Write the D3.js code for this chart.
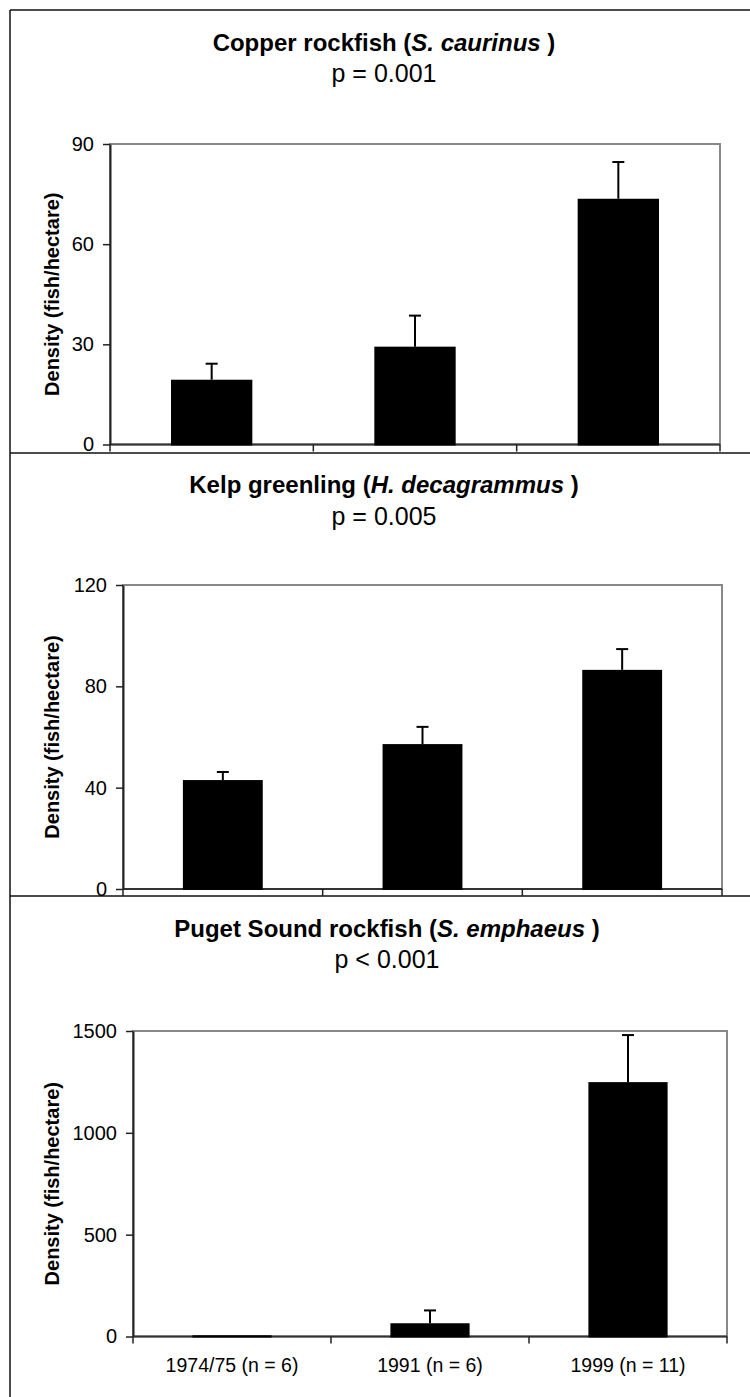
<!DOCTYPE html>
<html>
<head>
<meta charset="utf-8">
<script src="https://cdn.jsdelivr.net/npm/d3@7"></script>
<style>
  html, body { margin: 0; padding: 0; background: #fff; }
  svg { display: block; font-family: "Liberation Sans", Arial, Helvetica, sans-serif; }
</style>
</head>
<body>
<svg id="chart" width="750" height="1397"></svg>
<script>
// Survey periods shared by all three species panels
const categories = ["1974/75 (n = 6)", "1991 (n = 6)", "1999 (n = 11)"];

// Copper rockfish (S. caurinus): mean density and standard error
const copperMean = [19.4, 29.3, 73.6];
const copperSE = [4.8, 9.3, 11.0];
const copperTicks = [0, 30, 60, 90];

// Kelp greenling (H. decagrammus)
const greenlingMean = [43.0, 57.2, 86.5];
const greenlingSE = [3.2, 6.8, 8.2];
const greenlingTicks = [0, 40, 80, 120];

// Puget Sound rockfish (S. emphaeus)
const pugetMean = [6, 65, 1249];
const pugetSE = [0, 63, 231];
const pugetTicks = [0, 500, 1000, 1500];

// Title pieces: [text, italic?]
const copperTitle = [["Copper rockfish (", false], ["S. caurinus", true], [" )", false]];
const greenlingTitle = [["Kelp greenling (", false], ["H. decagrammus", true], [" )", false]];
const pugetTitle = [["Puget Sound rockfish (", false], ["S. emphaeus", true], [" )", false]];
const pValues = ["p = 0.001", "p = 0.005", "p < 0.001"];

const yLabel = "Density (fish/hectare)";

const svg = d3.select("#chart");

// Outer frame and panel separators
svg.append("line").attr("x1", 10).attr("x2", 750).attr("y1", 10).attr("y2", 10)
  .attr("stroke", "#111").attr("stroke-width", 1.5);
svg.append("line").attr("x1", 10).attr("x2", 10).attr("y1", 10).attr("y2", 1397)
  .attr("stroke", "#111").attr("stroke-width", 1.5);
[453, 896].forEach(yy => {
  svg.append("line").attr("x1", 10).attr("x2", 750).attr("y1", yy).attr("y2", yy)
    .attr("stroke", "#111").attr("stroke-width", 1.5);
});

const panels = [
  { mean: copperMean, se: copperSE, ticks: copperTicks, title: copperTitle, p: pValues[0],
    left: 110, top: 144, right: 720, bottom: 444.5, titleX: 384, titleY: 51, pY: 82, labels: false },
  { mean: greenlingMean, se: greenlingSE, ticks: greenlingTicks, title: greenlingTitle, p: pValues[1],
    left: 123, top: 585, right: 722, bottom: 889, titleX: 384, titleY: 493, pY: 525, labels: false },
  { mean: pugetMean, se: pugetSE, ticks: pugetTicks, title: pugetTitle, p: pValues[2],
    left: 133, top: 1031, right: 727, bottom: 1336.5, titleX: 387, titleY: 937, pY: 968, labels: true }
];

panels.forEach(pn => {
  const g = svg.append("g");

  const x = d3.scaleBand()
    .domain(categories)
    .range([pn.left, pn.right])
    .paddingInner(0.6)
    .paddingOuter(0.3);

  const y = d3.scaleLinear()
    .domain([pn.ticks[0], pn.ticks[pn.ticks.length - 1]])
    .range([pn.bottom, pn.top]);

  // Title and significance line
  const t = g.append("text")
    .attr("x", pn.titleX).attr("y", pn.titleY)
    .attr("text-anchor", "middle")
    .attr("font-size", 24).attr("font-weight", "bold").attr("fill", "#000");
  pn.title.forEach(([txt, it]) => {
    t.append("tspan").text(txt).attr("font-style", it ? "italic" : "normal");
  });
  g.append("text")
    .attr("x", pn.titleX).attr("y", pn.pY)
    .attr("text-anchor", "middle")
    .attr("font-size", 25).attr("fill", "#000")
    .text(pn.p);

  // Plot area border (grey)
  g.append("rect")
    .attr("x", pn.left).attr("y", pn.top)
    .attr("width", pn.right - pn.left).attr("height", pn.bottom - pn.top)
    .attr("fill", "none").attr("stroke", "#888").attr("stroke-width", 2);

  // X axis baseline with tick marks at category boundaries
  g.append("line")
    .attr("x1", pn.left).attr("x2", pn.right)
    .attr("y1", y(0)).attr("y2", y(0))
    .attr("stroke", "#333").attr("stroke-width", 2);
  const step = x.step();
  const bounds = d3.range(categories.length + 1).map(k => pn.left + k * step);
  g.selectAll("line.xtick")
    .data(bounds)
    .join("line").attr("class", "xtick")
    .attr("x1", d => d).attr("x2", d => d)
    .attr("y1", y(0)).attr("y2", y(0) + 7)
    .attr("stroke", "#222").attr("stroke-width", 1.5);

  // Bars (drawn over the baseline)
  g.selectAll("rect.bar")
    .data(categories)
    .join("rect")
    .attr("class", "bar")
    .attr("x", d => x(d))
    .attr("width", x.bandwidth())
    .attr("y", (d, i) => y(pn.mean[i]))
    .attr("height", (d, i) => y(0) - y(pn.mean[i]) + 1)
    .attr("fill", "#000");

  // Error bars (upper only)
  const capW = 12;
  const err = g.selectAll("g.err")
    .data(categories.filter((d, i) => pn.se[i] > 0))
    .join("g").attr("class", "err");
  err.append("line")
    .attr("x1", d => x(d) + x.bandwidth() / 2)
    .attr("x2", d => x(d) + x.bandwidth() / 2)
    .attr("y1", d => y(pn.mean[categories.indexOf(d)]))
    .attr("y2", d => { const i = categories.indexOf(d); return y(pn.mean[i] + pn.se[i]); })
    .attr("stroke", "#000").attr("stroke-width", 2);
  err.append("line")
    .attr("x1", d => x(d) + x.bandwidth() / 2 - capW / 2)
    .attr("x2", d => x(d) + x.bandwidth() / 2 + capW / 2)
    .attr("y1", d => { const i = categories.indexOf(d); return y(pn.mean[i] + pn.se[i]); })
    .attr("y2", d => { const i = categories.indexOf(d); return y(pn.mean[i] + pn.se[i]); })
    .attr("stroke", "#000").attr("stroke-width", 2);

  // Y axis
  const yAxis = g.append("g")
    .attr("transform", `translate(${pn.left},0)`)
    .call(d3.axisLeft(y).tickValues(pn.ticks).tickFormat(d3.format("d"))
      .tickSize(7).tickSizeOuter(0).tickPadding(9));
  yAxis.select(".domain").attr("stroke", "#222").attr("stroke-width", 2);
  yAxis.selectAll(".tick line").attr("stroke", "#222").attr("stroke-width", 1.5);
  yAxis.selectAll(".tick text")
    .attr("font-size", 20).attr("fill", "#000")
    .attr("font-family", "'Liberation Sans', Arial, sans-serif");

  if (pn.labels) {
    g.selectAll("text.xlab")
      .data(categories)
      .join("text").attr("class", "xlab")
      .attr("x", d => x(d) + x.bandwidth() / 2)
      .attr("y", y(0) + 35)
      .attr("text-anchor", "middle")
      .attr("font-size", 19.5).attr("fill", "#000")
      .text(d => d);
  }

  // Y axis title
  g.append("text")
    .attr("transform", `translate(52,${(pn.top + pn.bottom) / 2}) rotate(-90)`)
    .attr("text-anchor", "middle")
    .attr("dominant-baseline", "central")
    .attr("font-size", 20).attr("font-weight", "bold").attr("fill", "#000")
    .text(yLabel);
});
</script>
</body>
</html>
